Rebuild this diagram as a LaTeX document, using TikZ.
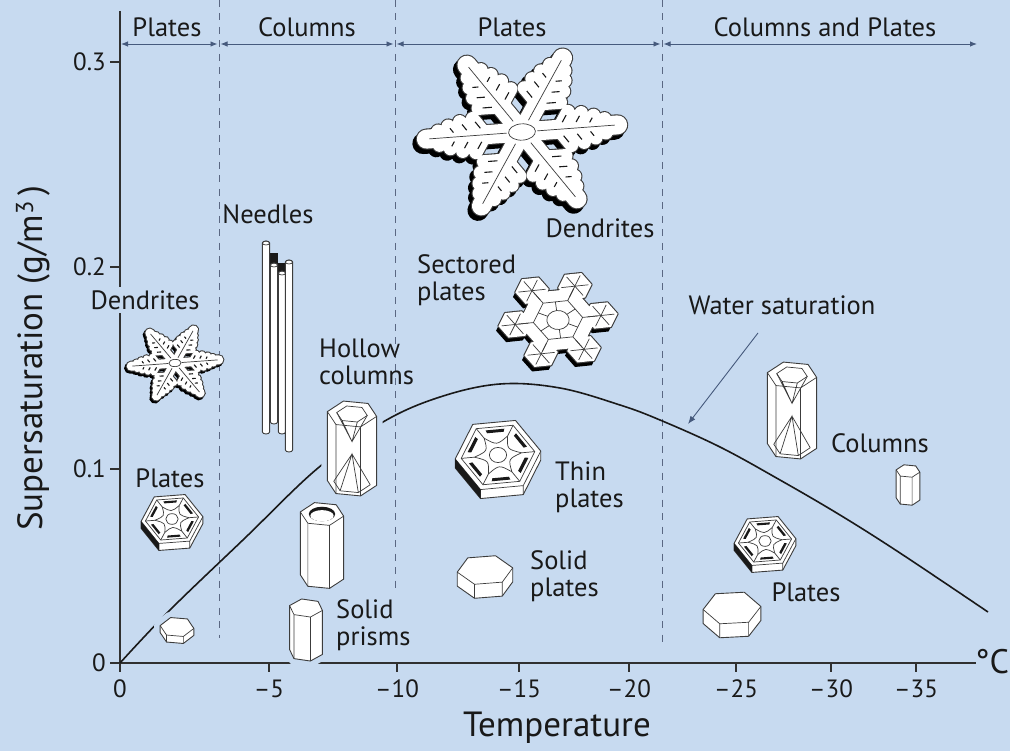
\documentclass[tikz,border=0pt]{standalone}
\usepackage{fontspec}
\setmainfont{PT Sans}
\usetikzlibrary{calc,arrows.meta,positioning}
\definecolor{bgblue}{RGB}{199,218,240}
\definecolor{inkblack}{RGB}{25,25,25}
\definecolor{rangeblue}{RGB}{70,90,125}
\definecolor{dashgray}{RGB}{90,103,130}
\definecolor{rimgray}{RGB}{60,60,60}
\tikzset{
        % Texts
        lbl/.style={font=\fontsize{26.5}{27}\selectfont, text=inkblack, align=left, inner sep=1pt},
        tick_lbl/.style={font=\fontsize{25}{26}\selectfont, text=inkblack, inner sep=1pt},
        axis_lbl/.style={font=\fontsize{35}{38}\selectfont, text=inkblack, inner sep=1pt},
        % Lines
        axis_line/.style={draw=inkblack!90, line width=1.8pt},
        tick_line/.style={draw=inkblack!90, line width=1.3pt},
        span_arrow/.style={draw=rangeblue, line width=0.9pt, {Latex[length=7pt,width=5.5pt]}-{Latex[length=7pt,width=5.5pt]}},
        divider/.style={draw=dashgray, line width=1pt, dash pattern=on 7pt off 6.5pt},
        sat_curve/.style={draw=inkblack, line width=1.6pt},
        pointer/.style={draw=rangeblue, line width=0.9pt, -{Latex[length=8pt,width=6pt]}},
        % Crystals
        halo/.style={draw=bgblue, line width=12pt, line join=round},
        crystal/.style={draw=rimgray, fill=white, line width=0.9pt, line join=round},
        crystal_edge/.style={draw=rimgray, line width=0.7pt},
        sect_shadow/.style={fill=black, shift={(-3,5)}},
        sect_rim/.style={draw=rimgray, line width=2.2pt, line join=round},
        sect_body/.style={fill=white}
}
\tikzset{
        % Hexagonal prism: radius, squash, height, turn
        pics/prism/.style n args={4}{code={
            \foreach \i in {0,...,5}{
                \coordinate (t\i) at ({#1*cos(#4+60*\i)},{#2*#1*sin(#4+60*\i)});
                \coordinate (b\i) at ({#1*cos(#4+60*\i)},{#2*#1*sin(#4+60*\i)+#3});
            }
            \draw[halo] (t3) -- (t4) -- (t5) -- (t0) -- (b0) -- (b1) -- (b2) -- (b3) -- cycle;
            \draw[crystal] (t3) -- (t4) -- (t5) -- (t0) -- (b0) -- (b1) -- (b2) -- (b3) -- cycle;
            \draw[crystal_edge] (t0) -- (t1) -- (t2) -- (t3) (t1) -- (b1) (t2) -- (b2);
        }},
        % Ribbed top of a plate
        pics/ridges/.style n args={4}{code={
            \foreach \i in {0,...,5}{
                \coordinate (rim\i) at ({0.86*#1*cos(#4+60*\i)},{0.86*#2*#1*sin(#4+60*\i)});
                \coordinate (slotA\i) at ({0.78*#1*cos(#4+60*\i)},{0.78*#2*#1*sin(#4+60*\i)});
                \coordinate (slotB\i) at ({0.69*#1*cos(#4+60*\i)},{0.69*#2*#1*sin(#4+60*\i)});
                \coordinate (core\i) at ({0.55*#1*cos(#4+60*\i)},{0.55*#2*#1*sin(#4+60*\i)});
                \coordinate (web\i) at ({0.26*#1*cos(#4+60*\i+30)},{0.26*#2*#1*sin(#4+60*\i+30)});
            }
            \fill[inkblack] ({#1*cos(#4+120)},{#2*#1*sin(#4+120)}) -- ({#1*cos(#4+180)},{#2*#1*sin(#4+180)})
                -- ++(0,#3) -- ({#1*cos(#4+120)},{#2*#1*sin(#4+120)+#3}) -- cycle;
            \draw[crystal_edge] (rim0) -- (rim1) -- (rim2) -- (rim3) -- (rim4) -- (rim5) -- cycle;
            \foreach \i in {0,...,5}{
                \pgfmathtruncatemacro{\j}{mod(\i+1,6)}
                \fill[inkblack] ($(slotA\i)!0.22!(slotA\j)$) -- ($(slotA\i)!0.78!(slotA\j)$)
                    -- ($(slotB\i)!0.78!(slotB\j)$) -- ($(slotB\i)!0.22!(slotB\j)$) -- cycle;
                \draw[crystal_edge] (core\i) -- (rim\i);
                \draw[crystal_edge] (core\i) .. controls (web\i) .. (core\j);
            }
            \draw[crystal_edge] (0,0) ellipse [x radius=0.2*#1, y radius=0.2*#2*#1];
        }},
        % Hollow ends of a column
        pics/hollow/.style n args={4}{code={
            \foreach \i in {0,...,5}{
                \coordinate (mouth\i) at ({0.62*#1*cos(#4+60*\i)},{0.62*#2*#1*sin(#4+60*\i)});
                \coordinate (foot\i) at ({0.74*#1*cos(#4+60*\i)},{0.74*#2*#1*sin(#4+60*\i)+#3});
            }
            \coordinate (cup) at (0,0.4*#3);
            \coordinate (peak) at (0,0.58*#3);
            \draw[crystal_edge] (mouth0) -- (mouth1) -- (mouth2) -- (mouth3) -- (mouth4) -- (mouth5) -- cycle;
            \draw[crystal_edge] (mouth0) -- (cup) -- (mouth3) (mouth1) -- (cup) -- (mouth2);
            \draw[crystal_edge] (foot0) -- (peak) -- (foot3) (foot1) -- (peak) -- (foot2)
                (foot0) -- (foot1) -- (foot2) -- (foot3);
        }},
        % Round opening on top of a column
        pics/bore/.style 2 args={code={
            \fill[inkblack] (0,0) ellipse [x radius=0.6*#1, y radius=0.6*#2*#1];
            \fill[white] (0,0.14*#2*#1) ellipse [x radius=0.53*#1, y radius=0.46*#2*#1];
        }},
        % Needle
        pics/needle/.style={code={
            \draw[crystal] (-3.6,0) -- (-3.6,#1) arc[start angle=180, end angle=0, x radius=3.6, y radius=2]
                -- (3.6,0) arc[start angle=0, end angle=-180, x radius=3.6, y radius=2] -- cycle;
            \draw[crystal_edge] (0,0) ellipse [x radius=3.6, y radius=2];
        }},
        % Dendrite star: arm length, stem width
        pics/dendrite/.style 2 args={code={
            \foreach \ink/\dx/\dy/\w in {black/-0.04/0.05/2.2, rimgray/0/0/2.2, white/0/0/0}{
                \begin{scope}[shift={(\dx*#1,\dy*#1)}]
                    \foreach \a in {0,60,...,300}{
                        \draw[\ink, line cap=round, rotate=\a, line width={#2+\w}] (0,0) -- (#1,0);
                        \draw[\ink, line cap=round, rotate=\a, line width={0.7*#2+\w}]
                            \foreach \t/\l in {0.38/0.24,0.53/0.21,0.68/0.16,0.82/0.1}{
                                (\t*#1,0) -- ++(60:\l*#1) (\t*#1,0) -- ++(-60:\l*#1)};
                    }
                \end{scope}
            }
            \foreach \a in {0,60,...,300}{
                \draw[crystal_edge, rotate=\a] (0.16*#1,0) -- (0.97*#1,0);
                \draw[inkblack, line width=1.1pt, rotate=\a]
                    \foreach \t/\l in {0.38/0.24,0.53/0.21,0.68/0.16}{
                        (\t*#1,0) ++(60:0.4*\l*#1) -- ++(60:0.4*\l*#1)
                        (\t*#1,0) ++(-60:0.4*\l*#1) -- ++(-60:0.4*\l*#1)};
            }
            \draw[crystal_edge] (0,0) ellipse [x radius=0.14*#1, y radius=0.1*#1];
        }},
        % Sectored plate: hexagon radius
        pics/sectored/.style={code={
            \foreach \ly in {sect_shadow, sect_rim, sect_body}{
                \path[\ly] (0:#1) \foreach \a in {60,120,...,300}{ -- (\a:#1)} -- cycle
                    \foreach \a in {0,60,...,300}{
                        ($(\a:1.08*#1)+(0:0.42*#1)$) \foreach \b in {60,120,...,300}{ -- ($(\a:1.08*#1)+(\b:0.42*#1)$)} -- cycle};
            }
            \draw[crystal_edge] (0:0.62*#1) \foreach \a in {60,120,...,300}{ -- (\a:0.62*#1)} -- cycle;
            \draw[crystal_edge] (0,0) circle [radius=0.28*#1];
            \foreach \a in {0,60,...,300}{
                \draw[crystal_edge] (\a:0.62*#1) -- (\a:#1);
                \draw[crystal_edge] (\a+30:0.28*#1) -- (\a+30:0.54*#1);
                \foreach \b in {0,60,120}
                    \draw[crystal_edge] ($(\a:1.08*#1)+(\b:0.34*#1)$) -- ($(\a:1.08*#1)+(\b+180:0.34*#1)$);
            }
        }}
}
\begin{document}
\begin{tikzpicture}[x=1pt, y=-1pt]
    \useasboundingbox (0,0) rectangle (1010,751);
    \fill[bgblue] (0,0) rectangle (1010,751);

    % Regimes
    \coordinate (r0) at (121,44);
    \coordinate (r1) at (219,44);
    \coordinate (r2) at (395,44);
    \coordinate (r3) at (662,44);
    \coordinate (r4) at (977,44);
    \draw[divider] (r1 |- 0,0) -- (r1 |- 0,638);
    \draw[divider] (r2 |- 0,0) -- (r2 |- 0,594);
    \draw[divider] (r3 |- 0,0) -- (r3 |- 0,647);
    \draw[span_arrow, shorten >=1.5pt] (r0) -- (r1);
    \draw[span_arrow, shorten <=1.5pt, shorten >=1.5pt] (r1) -- (r2);
    \draw[span_arrow, shorten <=1.5pt, shorten >=1.5pt] (r2) -- (r3);
    \draw[span_arrow, shorten <=1.5pt] (r3) -- (r4);
    \node[lbl] (regime1) at (167,27) {Plates};
    \node[lbl] (regime2) at (307,27) {Columns};
    \node[lbl] (regime3) at (512,27) {Plates};
    \node[lbl] (regime4) at (825,27) {Columns and Plates};

    % Axes
    \coordinate (ytop) at (120,11);
    \coordinate (origin) at (120,663);
    \coordinate (xend) at (976,663);
    \draw[axis_line] (ytop) -- (origin) -- (xend);
    \draw[axis_line] (origin) -- ++(-10,0);
    \foreach \v/\y in {0.1/469,0.2/267,0.3/62}{
        \draw[tick_line] (110,\y) -- (120,\y);
        \node[tick_lbl, anchor=east] (ytick\y) at (107,\y) {\v};
    }
    \node[tick_lbl, anchor=east] (ytick0) at (107,663) {0};
    \foreach \v/\x in {0/120,–5/269,–10/397,–15/519,–20/629,–25/736,–30/831,–35/916}{
        \draw[tick_line] (\x,663) -- (\x,672);
        \node[tick_lbl] (xtick\x) at (\x,689) {\v};
    }
    \node[axis_lbl, font=\fontsize{34}{36}\selectfont] (unit) at (992,662) {°C};
    \node[axis_lbl] (xlabel) at (557,728) {Temperature};
    \node[axis_lbl, rotate=90] (ylabel) at (33,358) {Supersaturation (g/m\textsuperscript{3}\,)};

    % Water saturation
    \draw[sat_curve] plot[smooth, tension=0.6] coordinates {(120,663) (170,610) (245,538) (318,468)
        (383,422) (440,397) (500,384) (560,388) (620,405) (660,420) (720,447) (780,480)
        (840,515) (900,553) (988,612)};
    \node[lbl] (water) at (782,305) {Water saturation};
    \coordinate (wtail) at (758,333);
    \coordinate (wsat) at (688,424);
    \draw[pointer] (wtail) -- (wsat);

    % Crystals
    \pic[yscale=0.83, rotate=5] at (175,363) {dendrite={44}{9}};
    \pic[yscale=0.85, rotate=5] at (522,132) {dendrite={96}{19}};
    \pic[yscale=0.85, rotate=7] at (558,320) {sectored=40};
    \pic at (172,519) {prism={31}{0.87}{7}{-5}};
    \pic at (172,519) {ridges={31}{0.87}{7}{-5}};
    \pic at (498,455) {prism={43}{0.88}{9}{-6}};
    \pic at (498,455) {ridges={43}{0.88}{9}{-6}};
    \pic at (765,541) {prism={31}{0.87}{7}{-5}};
    \pic at (765,541) {ridges={31}{0.87}{7}{-5}};
    \pic at (177,627) {prism={17}{0.6}{7}{8}};
    \pic at (306,608) {prism={17}{0.55}{44}{15}};
    \pic at (322,514) {prism={22}{0.55}{63}{10}};
    \pic at (322,514) {bore={22}{0.55}};
    \pic at (352,414) {prism={25}{0.55}{69}{10}};
    \pic at (352,414) {hollow={25}{0.55}{69}{10}};
    \pic at (792,375) {prism={25}{0.55}{71}{10}};
    \pic at (792,375) {hollow={25}{0.55}{71}{10}};
    \pic at (908,471) {prism={12}{0.55}{28}{10}};
    \pic at (485,570) {prism={28}{0.55}{14}{-8}};
    \pic at (732,608) {prism={29}{0.6}{14}{-5}};
    % Needles
    \fill[inkblack] (270.4,253) rectangle (277.6,266);
    \fill[inkblack] (278.4,263) rectangle (285.6,274);
    \pic at (266,243) {needle=189};
    \pic at (274,265) {needle=157};
    \pic at (282,273) {needle=159};
    \pic at (289,262) {needle=188};

    % Labels
    \node[lbl, fill=bgblue, inner ysep=3pt] (dendL) at (145,300) {Dendrites};
    \node[lbl] (platesL) at (170,478) {Plates};
    \node[lbl] (needles) at (268,214) {Needles};
    \node[lbl, anchor=west] (hollowL) at (318,362) {Hollow\\columns};
    \node[lbl, anchor=west] (prisms) at (335,625) {Solid\\prisms};
    \node[lbl, anchor=west] (sectors) at (416,280) {Sectored\\plates};
    \node[lbl] (dendT) at (600,228) {Dendrites};
    \node[lbl, anchor=west] (thin) at (554,487) {Thin\\plates};
    \node[lbl, anchor=west] (solidpl) at (529,576) {Solid\\plates};
    \node[lbl] (columnsR) at (880,443) {Columns};
    \node[lbl] (platesR) at (806,592) {Plates};
\end{tikzpicture}
\end{document}
